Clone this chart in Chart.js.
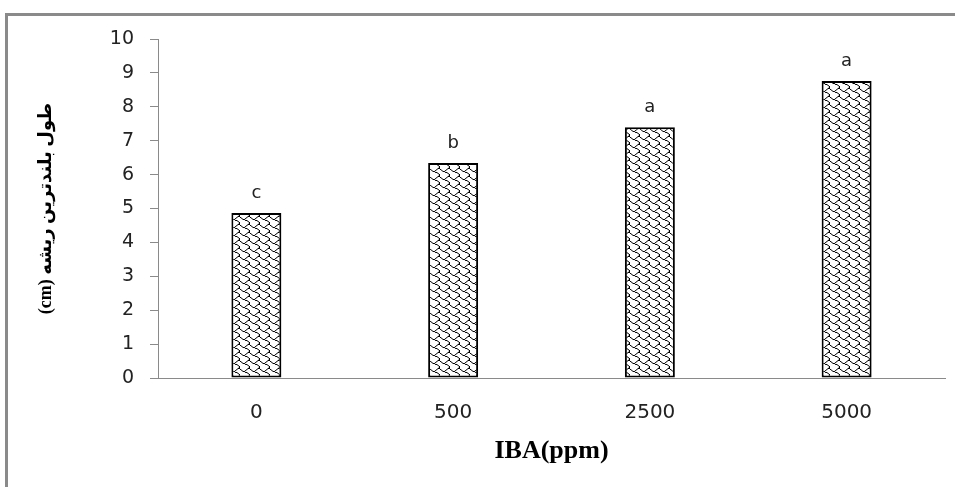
<!DOCTYPE html>
<html>
<head>
<meta charset="utf-8">
<script src="https://cdn.jsdelivr.net/npm/chart.js@4.4.1/dist/chart.umd.min.js"></script>
<style>
  html, body { margin: 0; padding: 0; background: #fff; }
  #wrap { width: 955px; height: 487px; position: relative; }
</style>
</head>
<body>
<div id="wrap"><canvas id="c" width="955" height="487"></canvas></div>
<script>
// IBA concentrations and mean length of the longest root
const categories = ['0', '500', '2500', '5000'];
const rootLength = [4.87, 6.34, 7.4, 8.76];
const groupLetters = ['c', 'b', 'a', 'a'];
const yTicks = [0, 1, 2, 3, 4, 5, 6, 7, 8, 9, 10];

const xTitle = 'IBA(ppm)';
// right-to-left isolate so "(cm)" sits at the end of the Persian phrase
const yTitle = '\u2067طول بلندترین ریشه (cm)\u2069';

// Shingle fill: an 8x8 bitmap drawn onto a slightly wider tile
const shingleRows = [0x03, 0x84, 0x48, 0x30, 0x0C, 0x02, 0x01, 0x01];
function makeShinglePattern() {
  const bits = document.createElement('canvas');
  bits.width = 8; bits.height = 8;
  const b = bits.getContext('2d');
  b.fillStyle = '#fff';
  b.fillRect(0, 0, 8, 8);
  b.fillStyle = '#000';
  shingleRows.forEach((row, y) => {
    for (let x = 0; x < 8; x++) {
      if (row & (0x80 >> x)) b.fillRect(x, y, 1, 1);
    }
  });
  const tile = document.createElement('canvas');
  tile.width = 10; tile.height = 8;
  const t = tile.getContext('2d');
  t.imageSmoothingEnabled = true;
  t.drawImage(bits, 0, 0, 10, 8);
  const ctx = document.getElementById('c').getContext('2d');
  return ctx.createPattern(tile, 'repeat');
}

// Outer frame: top and left edges
const framePlugin = {
  id: 'frame',
  beforeDraw(chart) {
    const ctx = chart.ctx;
    ctx.save();
    ctx.fillStyle = '#fff';
    ctx.fillRect(0, 0, chart.width, chart.height);
    ctx.strokeStyle = '#8a8a8a';
    ctx.lineWidth = 3;
    ctx.beginPath();
    ctx.moveTo(955, 14.5);
    ctx.lineTo(6.5, 14.5);
    ctx.lineTo(6.5, 487);
    ctx.stroke();
    ctx.restore();
  }
};

// Significance letters above each bar
const letterPlugin = {
  id: 'letters',
  afterDatasetsDraw(chart) {
    const ctx = chart.ctx;
    const meta = chart.getDatasetMeta(0);
    ctx.save();
    ctx.font = '18px "DejaVu Sans", Verdana, sans-serif';
    ctx.fillStyle = '#222';
    ctx.textAlign = 'center';
    ctx.textBaseline = 'alphabetic';
    meta.data.forEach((bar, i) => {
      ctx.fillText(groupLetters[i], bar.x, bar.y - 15);
    });
    ctx.restore();
  }
};

new Chart(document.getElementById('c'), {
  type: 'bar',
  data: {
    labels: categories,
    datasets: [{
      data: rootLength,
      backgroundColor: makeShinglePattern(),
      borderColor: '#000',
      borderWidth: 2,
      borderSkipped: false,
      barPercentage: 1,
      categoryPercentage: 0.254
    }]
  },
  options: {
    responsive: false,
    animation: false,
    layout: { padding: { left: 0, right: 10, top: 39, bottom: 0 } },
    plugins: {
      legend: { display: false },
      tooltip: { enabled: false }
    },
    scales: {
      x: {
        offset: true,
        grid: { display: false, drawTicks: false },
        border: { display: true, color: '#8a8a8a', width: 1 },
        ticks: {
          padding: 23,
          color: '#222',
          font: { family: '"DejaVu Sans", Verdana, sans-serif', size: 20 }
        },
        title: {
          display: true,
          text: xTitle,
          color: '#000',
          font: { family: '"Liberation Serif", "Times New Roman", serif', size: 26, weight: 'bold' },
          padding: { top: 4, bottom: 20 }
        },
        afterFit(scale) { scale.height = 109; }
      },
      y: {
        min: 0,
        max: 10,
        afterBuildTicks(scale) { scale.ticks = yTicks.map(v => ({ value: v })); },
        grid: { drawOnChartArea: false, drawTicks: true, tickLength: 8, color: '#8a8a8a' },
        border: { display: true, color: '#8a8a8a', width: 1 },
        ticks: {
          padding: 16,
          color: '#222',
          font: { family: '"DejaVu Sans", Verdana, sans-serif', size: 19 }
        },
        title: {
          display: true,
          text: yTitle,
          color: '#000',
          font: { family: '"Liberation Serif", "DejaVu Sans", serif', size: 18, weight: 'bold' },
          padding: { top: 36, bottom: 4 }
        },
        afterFit(scale) { scale.width = 158; }
      }
    }
  },
  plugins: [framePlugin, letterPlugin]
});
</script>
</body>
</html>
